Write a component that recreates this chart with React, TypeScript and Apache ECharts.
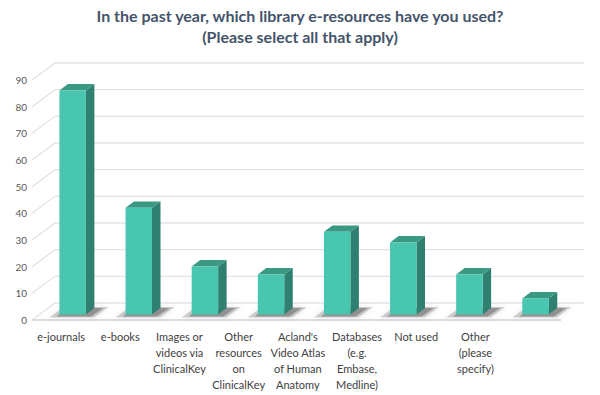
import React, { useEffect, useRef } from "react";
import * as echarts from "echarts";

const categories = [
  "e-journals",
  "e-books",
  "Images or\nvideos via\nClinicalKey",
  "Other\nresources\non\nClinicalKey",
  "Acland's\nVideo Atlas\nof Human\nAnatomy",
  "Databases\n(e.g.\nEmbase,\nMedline)",
  "Not used",
  "Other\n(please\nspecify)",
];
const values = [84, 40, 18, 15, 31, 27, 15, 6];
const yTicks = [0, 10, 20, 30, 40, 50, 60, 70, 80, 90];
const titleText =
  "In the past year, which library e-resources have you used?\n(Please select all that apply)";

const FONT = "Lato, 'Open Sans', sans-serif";
const DX = 23; // floor depth, x
const DY = 17; // floor depth, y
const F0 = 0.33; // bar front depth fraction
const F1 = 0.7; // bar back depth fraction

export default function App() {
  const ref = useRef<HTMLDivElement>(null);
  useEffect(() => {
    document.body.style.margin = "0";
    if (!ref.current) return;
    const chart = echarts.init(ref.current, undefined, { renderer: "svg" });
    const option: any = {
      animation: false,
      backgroundColor: "#ffffff",
      textStyle: { fontFamily: FONT },
      title: {
        text: titleText,
        left: "center",
        top: 0,
        textStyle: {
          fontFamily: FONT,
          fontSize: 16,
          fontWeight: "bold",
          color: "#44546A",
          lineHeight: 21,
        },
      },
      grid: [
        { left: 32, right: 39, top: 80, bottom: 75 },
        { left: 31.5, right: 95, top: 80, bottom: 75 },
      ],
      xAxis: [
        {
          type: "category",
          gridIndex: 0,
          data: categories,
          axisLine: { show: false },
          axisTick: { show: false },
          axisLabel: { show: false },
        },
        {
          type: "category",
          gridIndex: 1,
          data: categories,
          axisLine: { show: false },
          axisTick: { show: false },
          axisLabel: {
            interval: 0,
            fontFamily: FONT,
            fontSize: 11,
            lineHeight: 16,
            color: "#404040",
            margin: 8,
          },
        },
      ],
      yAxis: [
        {
          type: "value",
          gridIndex: 0,
          min: 0,
          max: 90,
          interval: 10,
          axisLine: { show: false },
          axisTick: { show: false },
          splitLine: { show: false },
          axisLabel: { color: "#595959", fontSize: 10, margin: 5, fontFamily: FONT },
        },
        {
          type: "value",
          gridIndex: 1,
          min: 0,
          max: 90,
          show: false,
        },
      ],
      series: [
        {
          type: "custom",
          xAxisIndex: 0,
          yAxisIndex: 0,
          clip: false,
          silent: true,
          data: yTicks.map((v) => [0, v]),
          renderItem: (params: any, api: any) => {
            const cs = params.coordSys;
            const v = api.value(1);
            const y = api.coord([0, v])[1];
            const left = cs.x;
            const right = cs.x + cs.width;
            const children: any[] = [
              {
                type: "polyline",
                shape: {
                  points: [
                    [left, y],
                    [left + DX, y - DY],
                    [right + DX, y - DY],
                  ],
                },
                style: { stroke: "#E2E3EA", lineWidth: 1.3, fill: "none" },
              },
            ];
            if (v === 0) {
              children.push({
                type: "line",
                shape: { x1: left, y1: y, x2: right, y2: y },
                style: { stroke: "#DCDDE2", lineWidth: 2 },
              });
            }
            return { type: "group", children };
          },
        },
        {
          type: "custom",
          xAxisIndex: 0,
          yAxisIndex: 0,
          clip: false,
          silent: true,
          data: values.map((v, i) => [i, v]),
          renderItem: (params: any, api: any) => {
            const i = api.value(0);
            const v = api.value(1);
            const top = api.coord([i, v]);
            const base = api.coord([i, 0]);
            const band = api.size([1, 0])[0];
            const w = band * 0.4;
            const ox = DX * F0;
            const oy = DY * F0;
            const dx = DX * (F1 - F0);
            const dy = DY * (F1 - F0);
            const xl = top[0] + ox - w / 2;
            const xr = xl + w;
            const yt = top[1] - oy;
            const yb = base[1] - oy;
            return {
              type: "group",
              children: [
                {
                  type: "polygon",
                  shape: {
                    points: [
                      [xl - 10, yb + 3],
                      [xr + 8, yb + 3],
                      [xr + dx + 14, yb - dy - 1],
                      [xl + dx - 4, yb - dy - 1],
                    ],
                  },
                  style: {
                    fill: "rgba(70,70,70,0.25)",
                    shadowBlur: 6,
                    shadowColor: "rgba(0,0,0,0.35)",
                  },
                },
                {
                  type: "polygon",
                  shape: {
                    points: [
                      [xl - 3, yb + 2],
                      [xr + 5, yb + 2],
                      [xr + dx + 9, yb - dy],
                      [xl + dx, yb - dy],
                    ],
                  },
                  style: { fill: "rgba(50,50,50,0.35)" },
                },
                {
                  type: "polygon",
                  shape: {
                    points: [
                      [xr, yt],
                      [xr + dx, yt - dy],
                      [xr + dx, yb - dy],
                      [xr, yb],
                    ],
                  },
                  style: { fill: "#2F8070" },
                },
                {
                  type: "polygon",
                  shape: {
                    points: [
                      [xl, yt],
                      [xl + dx, yt - dy],
                      [xr + dx, yt - dy],
                      [xr, yt],
                    ],
                  },
                  style: { fill: "#3A9983" },
                },
                {
                  type: "rect",
                  shape: { x: xl, y: yt, width: w, height: yb - yt },
                  style: { fill: "#48C6AF" },
                },
              ],
            };
          },
        },
      ],
    };
    chart.setOption(option);
    return () => chart.dispose();
  }, []);
  return <div ref={ref} style={{ width: 600, height: 395 }} />;
}
